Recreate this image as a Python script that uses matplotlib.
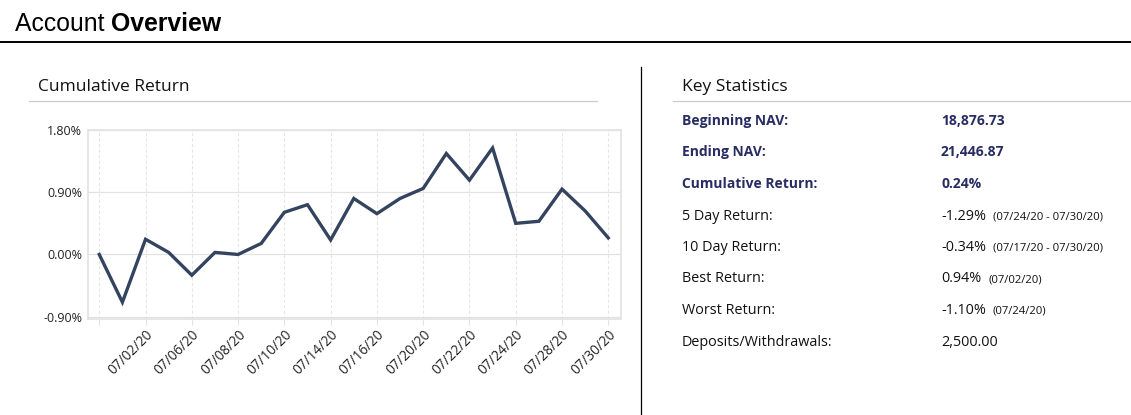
import matplotlib
matplotlib.use("Agg")
import matplotlib.pyplot as plt
from matplotlib.lines import Line2D

# ---------------- data ----------------
dates = ["06/30/20", "07/01/20", "07/02/20", "07/03/20", "07/06/20", "07/07/20",
         "07/08/20", "07/09/20", "07/10/20", "07/13/20", "07/14/20", "07/15/20",
         "07/16/20", "07/17/20", "07/20/20", "07/21/20", "07/22/20", "07/23/20",
         "07/24/20", "07/27/20", "07/28/20", "07/29/20", "07/30/20"]
cum_return = [0.00, -0.69, 0.22, 0.03, -0.30, 0.03, 0.00, 0.16, 0.61, 0.72, 0.21,
              0.81, 0.59, 0.81, 0.955, 1.46, 1.075, 1.54, 0.45, 0.48, 0.945, 0.63, 0.24]
y_ticks = [-0.90, 0.00, 0.90, 1.80]
tick_idx = list(range(0, len(dates), 2))
tick_labels = [""] + [dates[i] for i in tick_idx[1:]]

stat_labels = ["Beginning NAV:", "Ending NAV:", "Cumulative Return:", "5 Day Return:",
               "10 Day Return:", "Best Return:", "Worst Return:", "Deposits/Withdrawals:"]
stat_values = ["18,876.73", "21,446.87", "0.24%", "-1.29%", "-0.34%", "0.94%", "-1.10%", "2,500.00"]
stat_notes = ["", "", "", "(07/24/20 - 07/30/20)", "(07/17/20 - 07/30/20)",
              "(07/02/20)", "(07/24/20)", ""]
stat_bold = [True, True, True, False, False, False, False, False]

# ---------------- figure ----------------
W, H = 1131, 415
fig = plt.figure(figsize=(W / 100, H / 100), dpi=100)
fig.patch.set_facecolor("white")


def fx(x):
    return x / W


def fy(y):
    return 1 - y / H


# header
t = fig.text(fx(15), fy(24), "Account ", family="Liberation Sans", fontsize=17.8,
             va="center", ha="left", color="black")
fig.canvas.draw()
r = fig.canvas.get_renderer()
bb = t.get_window_extent(renderer=r)
fig.text(bb.x1 / W, fy(24), "Overview", family="Liberation Sans", fontsize=17.8,
         fontweight="bold", va="center", ha="left", color="black")
fig.add_artist(Line2D([0, 1], [fy(42.5), fy(42.5)], transform=fig.transFigure,
                      color="black", lw=1.4))
# divider
fig.add_artist(Line2D([fx(640.5), fx(640.5)], [fy(67), fy(415)], transform=fig.transFigure,
                      color="black", lw=0.9))

# section headers
fig.text(fx(38), fy(87), "Cumulative Return", family="Open Sans", fontsize=12.5,
         va="center", ha="left", color="#111111")
fig.add_artist(Line2D([fx(29), fx(597)], [fy(101.5), fy(101.5)], transform=fig.transFigure,
                      color="#cccccc", lw=0.9))
fig.text(fx(682), fy(87), "Key Statistics", family="Open Sans", fontsize=12.5,
         va="center", ha="left", color="#111111")
fig.add_artist(Line2D([fx(673), fx(1131)], [fy(101.5), fy(101.5)], transform=fig.transFigure,
                      color="#cccccc", lw=0.9))

# ---------------- chart ----------------
left, right, top, bottom = 87.7, 621, 130, 319
ax = fig.add_axes([fx(left), fy(bottom), (right - left) / W, (bottom - top) / H])
x = list(range(len(dates)))
ax.plot(x, cum_return, color="#34445f", lw=2.4, solid_joinstyle="miter")
ax.set_xlim(-0.5, 22.55)
ax.set_ylim(-0.933, 1.80)
ax.set_yticks(y_ticks)
ax.set_yticklabels([f"{v:.2f}%" for v in y_ticks], family="Open Sans", fontsize=9,
                   color="#222222")
ax.set_xticks(tick_idx)
ax.set_xticklabels(tick_labels, family="Open Sans", fontsize=9.8, color="#222222",
                   rotation=45, ha="right", va="top", rotation_mode="anchor")
ax.tick_params(axis="y", length=0, pad=4)
ax.tick_params(axis="x", length=4, color="#e3e3e3", pad=2)
ax.grid(axis="y", color="#e2e2e2", lw=0.9)
ax.grid(axis="x", color="#e6e6e6", lw=0.8, linestyle=(0, (3, 2)))
ax.set_axisbelow(True)
for s in ax.spines.values():
    s.set_color("#e2e2e2")
    s.set_linewidth(1.2)

# ---------------- key statistics ----------------
row_y = [120.7, 152.3, 184, 216, 247.7, 279, 310.7, 342.7]
navy = "#272c63"
fig.canvas.draw()
r = fig.canvas.get_renderer()
for lab, val, note, bold, yy in zip(stat_labels, stat_values, stat_notes, stat_bold, row_y):
    col = navy if bold else "#111111"
    wt = "bold" if bold else "normal"
    fs = 10.0 if bold else 10.4
    fig.text(fx(682), fy(yy), lab, family="Open Sans", fontsize=fs, fontweight=wt,
             color=col, va="center", ha="left")
    tv = fig.text(fx(941), fy(yy), val, family="Open Sans", fontsize=fs, fontweight=wt,
                  color=col, va="center", ha="left")
    if note:
        b = tv.get_window_extent(renderer=r)
        fig.text((b.x1 + 7) / W, fy(yy + 0.5), note, family="Open Sans", fontsize=8.1,
                 color="#111111", va="center", ha="left")

fig.savefig("out.png", dpi=100, facecolor="white")
